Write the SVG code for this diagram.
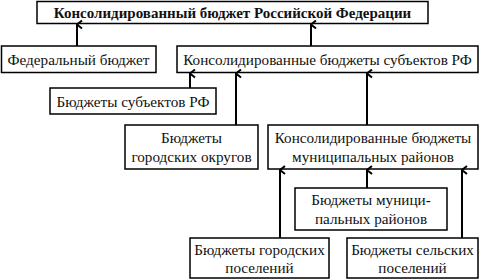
<svg xmlns="http://www.w3.org/2000/svg" width="480" height="279" viewBox="0 0 480 279">
<style>
rect{fill:#fff;stroke:#000;stroke-width:1.5}
text{font-family:"Liberation Serif","Times New Roman",serif;font-size:15.2px;fill:#111;text-anchor:middle}
.b{font-weight:bold;font-size:15px}
.c line{stroke:#000;stroke-width:2;marker-end:url(#ah)}
</style>
<defs>
<marker id="ah" markerWidth="10" markerHeight="10" refX="5" refY="1" orient="auto-start-reverse" markerUnits="userSpaceOnUse" viewBox="0 0 10 10">
<polyline points="1,6 5,1 9,6" fill="none" stroke="#000" stroke-width="2"/>
</marker>
</defs>
<rect x="0" y="0" width="480" height="279" style="stroke:none"/>
<g id="n_top"><rect x="37" y="1.5" width="391" height="22"/><text class="b" x="232.5" y="17.5">Консолидированный бюджет Российской Федерации</text></g>
<g id="n_fed"><rect x="1.5" y="46" width="154.5" height="26.5"/><text x="78.5" y="64.5">Федеральный бюджет</text></g>
<g id="n_consub"><rect x="177" y="46" width="301" height="26.5"/><text x="327.5" y="64.5">Консолидированные бюджеты субъектов РФ</text></g>
<g id="n_sub"><rect x="50" y="88" width="166" height="26"/><text x="133" y="106.5">Бюджеты субъектов РФ</text></g>
<g id="n_gor"><rect x="125" y="125" width="133" height="44"/><text x="191.5" y="143">Бюджеты</text><text x="191.5" y="162">городских округов</text></g>
<g id="n_conmun"><rect x="268" y="125" width="210" height="44"/><text x="373" y="143">Консолидированные бюджеты</text><text x="373" y="162">муниципальных районов</text></g>
<g id="n_mun"><rect x="295" y="188" width="152" height="42"/><text x="371" y="205">Бюджеты муници-</text><text x="371" y="223.5">пальных районов</text></g>
<g id="n_gp"><rect x="190" y="238" width="139" height="40"/><text x="259.5" y="255">Бюджеты городских</text><text x="259.5" y="273">поселений</text></g>
<g id="n_sp"><rect x="347" y="238" width="131" height="40"/><text x="412.5" y="255">Бюджеты сельских</text><text x="412.5" y="273">поселений</text></g>
<g id="connectors" class="c">
<line x1="77" y1="46" x2="77" y2="24.5"/>
<line x1="311" y1="46" x2="311" y2="24.5"/>
<line x1="190" y1="88" x2="190" y2="73.5"/>
<line x1="236" y1="125" x2="236" y2="73.5"/>
<line x1="367" y1="125" x2="367" y2="73.5"/>
<line x1="280" y1="238" x2="280" y2="170"/>
<line x1="367" y1="188" x2="367" y2="170"/>
<line x1="462" y1="238" x2="462" y2="170"/>
</g>
</svg>
